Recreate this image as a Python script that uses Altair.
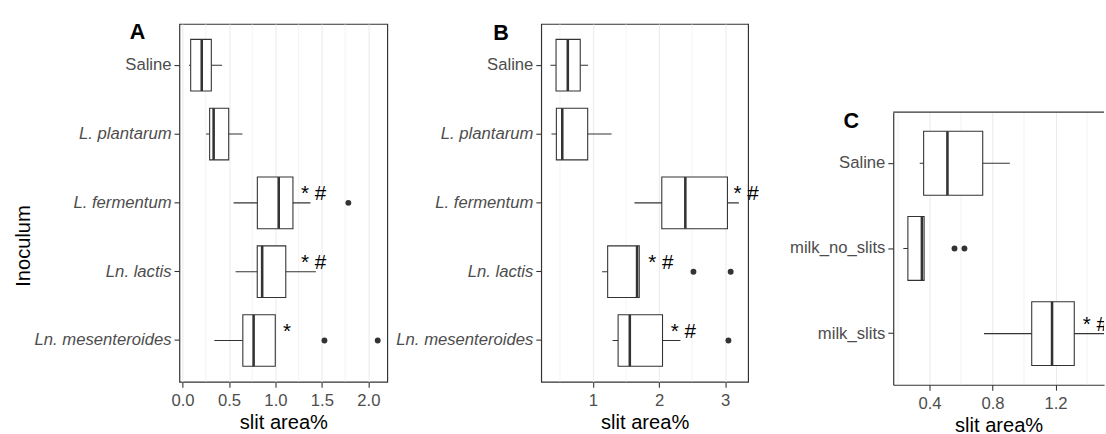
import altair as alt
import pandas as pd

FONT = "Liberation Sans"
DARK = "#333333"

# ---------------- Panel A ----------------
a_cats = ["Saline", "L. plantarum", "L. fermentum", "Ln. lactis", "Ln. mesenteroides"]
a_lo = [0.07, 0.254, 0.55, 0.571, 0.342]
a_q1 = [0.088, 0.292, 0.805, 0.804, 0.649]
a_med = [0.207, 0.335, 1.035, 0.857, 0.765]
a_q3 = [0.31, 0.497, 1.188, 1.111, 0.998]
a_hi = [0.426, 0.645, 1.376, 1.435, 0.998]
a_out_cat = ["L. fermentum", "Ln. mesenteroides", "Ln. mesenteroides"]
a_out_val = [1.784, 1.527, 2.10]
a_ann_cat = ["L. fermentum", "Ln. lactis", "Ln. mesenteroides"]
a_ann_val = [1.41, 1.41, 1.125]
a_ann_txt = ["* #", "* #", "*"]
a_ticks = [0.0, 0.5, 1.0, 1.5, 2.0]
a_minor = [0.25, 0.75, 1.25, 1.75]
a_domain = [-0.033, 2.203]

# ---------------- Panel B ----------------
b_cats = a_cats
b_lo = [0.357, 0.372, 1.627, 1.138, 1.296]
b_q1 = [0.441, 0.446, 2.041, 1.222, 1.38]
b_med = [0.619, 0.535, 2.397, 1.667, 1.557]
b_q3 = [0.807, 0.92, 3.034, 1.70, 2.052]
b_hi = [0.926, 1.281, 3.207, 1.70, 2.323]
b_out_cat = ["Ln. lactis", "Ln. lactis", "Ln. mesenteroides"]
b_out_val = [2.52, 3.083, 3.049]
b_ann_cat = ["L. fermentum", "Ln. lactis", "Ln. mesenteroides"]
b_ann_val = [3.316, 2.026, 2.367]
b_ann_txt = ["* #", "* #", "* #"]
b_ticks = [1, 2, 3]
b_minor = [0.5, 1.5, 2.5]
b_domain = [0.217, 3.347]

# ---------------- Panel C (cut off at the right edge, as in the reference) ----------------
c_cats = ["Saline", "milk_no_slits", "milk_slits"]
c_lo = [0.338, 0.234, 0.746]
c_q1 = [0.363, 0.263, 1.049]
c_med = [0.514, 0.352, 1.178]
c_q3 = [0.738, 0.366, 1.319]
c_hi = [0.91, 0.366, 1.52]
c_out_cat = ["milk_no_slits", "milk_no_slits"]
c_out_val = [0.559, 0.622]
c_ann_cat = ["milk_slits"]
c_ann_val = [1.453]
c_ann_txt = ["* #"]
c_ticks = [0.4, 0.8, 1.2]
c_minor = [0.2, 0.6, 1.0, 1.4]
c_domain = [0.17, 1.508]


def panel(cats, lo, q1, med, q3, hi, out_cat, out_val, ann_cat, ann_val, ann_txt,
          ticks, minor, domain, fmt, width, height, letter, lx, ly, italic, ytitle,
          cut=False):
    box = pd.DataFrame({"cat": cats, "lo": lo, "q1": q1, "med": med, "q3": q3, "hi": hi})
    outs = pd.DataFrame({"cat": out_cat, "val": out_val})
    anns = pd.DataFrame({"cat": ann_cat, "val": ann_val, "txt": ann_txt})
    mins = pd.DataFrame({"m": minor})
    lab = pd.DataFrame({"t": [letter]})

    style = {"condition": {"test": "datum.value == 'Saline'", "value": "normal"},
             "value": "italic"} if italic else "normal"
    yaxis_kw = dict(labelFontStyle=style, bandPosition=0.5)
    xaxis_kw = dict(values=ticks, format=fmt, title="slit area%",
                    titleY=48, titleBaseline="alphabetic")
    if cut:
        yaxis_kw.update(domain=True, domainColor=DARK, domainWidth=1.2)
        xaxis_kw.update(domain=True, domainColor=DARK, domainWidth=1.2)
    if ytitle:
        yaxis_kw.update(title=ytitle, titleX=-153, titleY=226, titleAngle=270,
                        titleBaseline="alphabetic", titleAlign="center")
    else:
        yaxis_kw.update(title=None)
    yenc = alt.Y("cat:N", sort=cats,
                 scale=alt.Scale(domain=cats, paddingInner=0.25, paddingOuter=0.225),
                 axis=alt.Axis(**yaxis_kw))

    def xenc(f):
        return alt.X(f"{f}:Q",
                     scale=alt.Scale(domain=domain, nice=False, zero=False),
                     axis=alt.Axis(**xaxis_kw))

    band = height / (len(cats) - 0.25 + 0.45) * 0.75

    grid_minor = alt.Chart(mins).mark_rule(color="#EBEBEB", strokeWidth=0.6).encode(x=xenc("m"))
    whisk = alt.Chart(box).mark_rule(color=DARK, strokeWidth=1.1, clip=cut).encode(
        x=xenc("lo"), x2="hi:Q", y=yenc)
    boxes = alt.Chart(box).mark_bar(fill="white", stroke=DARK, strokeWidth=1.1).encode(
        x=xenc("q1"), x2="q3:Q", y=yenc)
    meds = alt.Chart(box).mark_tick(color=DARK, thickness=2.6, size=band, opacity=1).encode(
        x=xenc("med"), y=yenc)
    pts = alt.Chart(outs).mark_circle(color=DARK, size=36, opacity=1).encode(
        x=xenc("val"), y=yenc)
    txt = alt.Chart(anns).mark_text(font=FONT, fontSize=21, color="black", clip=cut,
                                    baseline="alphabetic", align="center", dy=-3).encode(
        x=xenc("val"), y=yenc, text="txt:N")
    letr = alt.Chart(lab).mark_text(font=FONT, fontSize=22, fontWeight="bold", color="black",
                                    align="left", baseline="alphabetic").encode(
        x=alt.value(lx), y=alt.value(ly), text="t:N")
    layers = [grid_minor, whisk, boxes, meds, pts, txt, letr]
    props = dict(width=width, height=height)
    if cut:
        topline = alt.Chart(lab).mark_rule(color=DARK, strokeWidth=1.2).encode(
            x=alt.value(0), x2=alt.value(width), y=alt.value(0))
        layers.append(topline)
        props["view"] = alt.ViewBackground(stroke="transparent")
    return alt.layer(*layers).properties(**props)


pA = panel(a_cats, a_lo, a_q1, a_med, a_q3, a_hi, a_out_cat, a_out_val,
           a_ann_cat, a_ann_val, a_ann_txt, a_ticks, a_minor, a_domain, ".1f",
           212, 365, "A", -50.6, 15.3, True, "Inoculum")
pB = panel(b_cats, b_lo, b_q1, b_med, b_q3, b_hi, b_out_cat, b_out_val,
           b_ann_cat, b_ann_val, b_ann_txt, b_ticks, b_minor, b_domain, "d",
           211, 365, "B", -49, 16.3, True, None)
pC = panel(c_cats, c_lo, c_q1, c_med, c_q3, c_hi, c_out_cat, c_out_val,
           c_ann_cat, c_ann_val, c_ann_txt, c_ticks, c_minor, c_domain, ".1f",
           215, 278, "C", -50.7, 16.3, False, None, cut=True)

spacer = alt.Chart(pd.DataFrame({"z": [0]})).mark_point(opacity=0, size=1).encode(
    x=alt.value(2), y=alt.value(2)).properties(
    width=200, height=86, view=alt.ViewBackground(stroke="transparent"))

right = alt.vconcat(spacer, pC, spacing=0)
left = alt.hconcat(pA, pB, spacing=7)

chart = alt.hconcat(left, right, spacing=29).properties(
    padding={"left": 13, "top": 16, "right": 0, "bottom": 0}
).configure_view(
    stroke=DARK, strokeWidth=1.2
).configure_axis(
    labelFont=FONT, labelFontSize=17, labelColor="#4D4D4D",
    titleFont=FONT, titleFontSize=20.5, titleColor="black", titleFontWeight="normal",
    domain=False, tickColor=DARK, tickWidth=1.1, tickSize=5.5,
    gridColor="#EBEBEB", gridWidth=1.1, labelPadding=4
).configure_axisX(labelPadding=5.5).configure_axisY(labelPadding=3)

chart.save("out.html", embed_options={"renderer": "svg", "actions": False})
